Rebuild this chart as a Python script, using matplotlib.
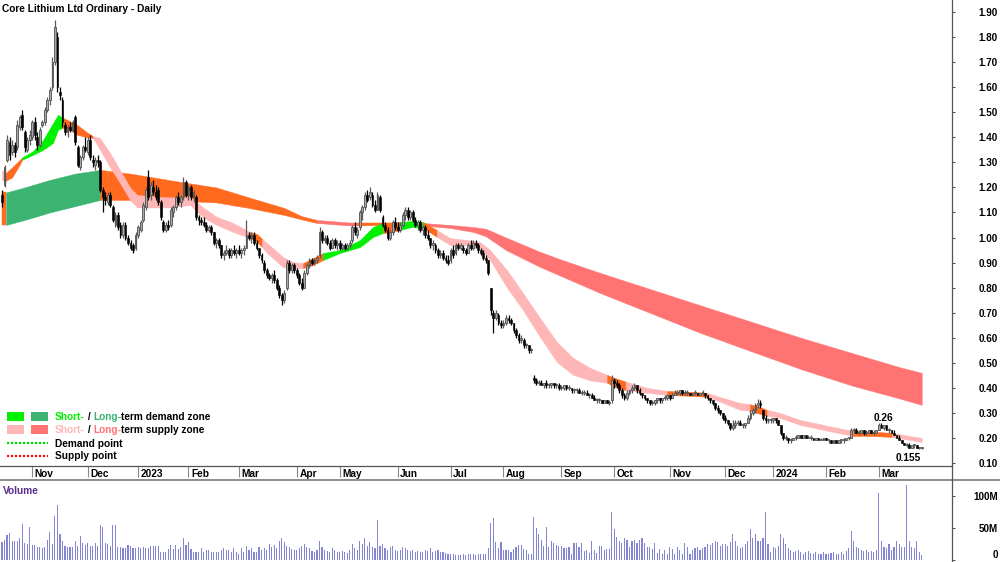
import matplotlib
matplotlib.use("Agg")
import matplotlib.pyplot as plt
from matplotlib.lines import Line2D
from matplotlib.patches import Rectangle
from matplotlib.ticker import FixedLocator, FixedFormatter
import numpy as np
import pandas as pd

plt.rcParams['font.family'] = ['Liberation Sans', 'DejaVu Sans']

title = "Core Lithium Ltd Ordinary - Daily"
first_day = "2022-10-14"
last_day = "2024-03-26"
asx_holidays = ["2022-12-26", "2022-12-27", "2023-01-02", "2023-01-26", "2023-04-07",
                "2023-04-10", "2023-04-25", "2023-06-12", "2023-12-25", "2023-12-26",
                "2024-01-01", "2024-01-26"]

# daily candles (open, high, low, close), one list per month
ohlc_2022_10 = [(1.17,1.19,1.12,1.14),(1.21,1.29,1.20,1.28),(1.31,1.41,1.30,1.39),(1.38,1.40,1.31,1.33),(1.34,1.39,1.33,1.37),(1.37,1.38,1.32,1.34),(1.36,1.47,1.35,1.45),(1.44,1.49,1.43,1.48),(1.49,1.51,1.43,1.44),(1.42,1.43,1.34,1.36),(1.35,1.40,1.34,1.39),(1.39,1.43,1.37,1.41)]
ohlc_2022_11 = [(1.40,1.47,1.39,1.46),(1.46,1.48,1.39,1.41),(1.40,1.42,1.35,1.37),(1.37,1.44,1.36,1.43),(1.45,1.47,1.44,1.46),(1.46,1.52,1.45,1.51),(1.51,1.56,1.50,1.55),(1.55,1.60,1.53,1.59),(1.60,1.72,1.59,1.70),(1.70,1.87,1.69,1.84),(1.80,1.82,1.58,1.60),(1.58,1.60,1.55,1.57),(1.55,1.56,1.44,1.46),(1.45,1.46,1.41,1.42),(1.42,1.45,1.40,1.44),(1.44,1.46,1.42,1.43),(1.43,1.47,1.42,1.46),(1.48,1.49,1.37,1.38),(1.36,1.37,1.28,1.29),(1.28,1.33,1.27,1.32),(1.32,1.37,1.31,1.36),(1.36,1.40,1.34,1.35)]
ohlc_2022_12 = [(1.34,1.40,1.33,1.39),(1.39,1.41,1.31,1.32),(1.31,1.33,1.28,1.30),(1.29,1.32,1.27,1.31),(1.31,1.33,1.28,1.30),(1.30,1.31,1.18,1.19),(1.19,1.20,1.10,1.16),(1.16,1.18,1.13,1.15),(1.14,1.18,1.13,1.17),(1.17,1.18,1.12,1.13),(1.12,1.13,1.06,1.07),(1.05,1.10,1.04,1.09),(1.09,1.10,1.03,1.04),(1.05,1.06,1.00,1.01),(1.01,1.06,1.00,1.05),(1.05,1.06,0.99,1.00),(1.00,1.01,0.97,0.98),(0.98,0.99,0.95,0.96),(0.97,0.98,0.94,0.95),(0.96,1.02,0.95,1.01)]
ohlc_2023_01 = [(1.01,1.05,1.00,1.04),(1.03,1.07,1.02,1.06),(1.07,1.14,1.06,1.13),(1.12,1.20,1.11,1.19),(1.24,1.27,1.15,1.16),(1.17,1.22,1.15,1.21),(1.20,1.23,1.17,1.18),(1.18,1.21,1.15,1.16),(1.19,1.20,1.13,1.14),(1.14,1.15,1.07,1.08),(1.06,1.07,1.02,1.03),(1.03,1.06,1.02,1.05),(1.05,1.07,1.03,1.04),(1.05,1.12,1.04,1.11),(1.10,1.13,1.08,1.12),(1.12,1.17,1.11,1.16),(1.16,1.18,1.13,1.14),(1.14,1.17,1.12,1.16),(1.16,1.24,1.15,1.22),(1.22,1.23,1.16,1.17)]
ohlc_2023_02 = [(1.17,1.21,1.15,1.20),(1.20,1.21,1.15,1.16),(1.16,1.19,1.14,1.18),(1.16,1.17,1.07,1.08),(1.08,1.09,1.05,1.07),(1.07,1.08,1.05,1.06),(1.06,1.08,1.04,1.05),(1.05,1.06,1.02,1.03),(1.03,1.05,1.02,1.04),(1.04,1.05,1.01,1.02),(1.02,1.02,0.97,0.98),(0.98,1.00,0.96,0.99),(0.99,1.00,0.96,0.97),(0.97,0.97,0.92,0.93),(0.93,0.95,0.91,0.94),(0.94,0.97,0.93,0.95),(0.95,0.96,0.92,0.93),(0.93,0.96,0.92,0.95),(0.95,0.97,0.93,0.94),(0.94,0.96,0.92,0.95)]
ohlc_2023_03 = [(0.95,0.97,0.93,0.94),(0.94,0.96,0.92,0.95),(0.95,0.97,0.93,0.96),(0.96,1.07,0.96,1.01),(1.01,1.02,0.99,1.00),(1.00,1.02,0.98,1.01),(1.01,1.02,0.97,0.98),(0.98,0.99,0.95,0.96),(0.96,0.96,0.92,0.93),(0.93,0.94,0.90,0.91),(0.90,0.91,0.86,0.87),(0.87,0.88,0.84,0.85),(0.85,0.86,0.83,0.84),(0.84,0.86,0.82,0.85),(0.85,0.87,0.82,0.83),(0.83,0.84,0.79,0.80),(0.80,0.81,0.76,0.77),(0.77,0.78,0.73,0.75),(0.75,0.79,0.74,0.78),(0.80,0.91,0.79,0.90),(0.90,0.91,0.86,0.87),(0.87,0.90,0.86,0.89),(0.89,0.90,0.86,0.87)]
ohlc_2023_04 = [(0.87,0.88,0.84,0.85),(0.85,0.86,0.81,0.82),(0.82,0.84,0.79,0.80),(0.80,0.87,0.80,0.86),(0.86,0.90,0.85,0.89),(0.89,0.92,0.88,0.91),(0.91,0.92,0.89,0.90),(0.90,0.92,0.89,0.91),(0.91,0.93,0.90,0.92),(0.93,1.04,0.92,1.02),(1.02,1.03,0.98,0.99),(0.99,1.01,0.98,1.00),(1.00,1.01,0.97,0.98),(0.98,0.99,0.95,0.96),(0.96,1.00,0.96,0.99),(0.99,1.00,0.96,0.97),(0.97,0.99,0.95,0.98)]
ohlc_2023_05 = [(0.98,0.99,0.95,0.96),(0.96,0.98,0.95,0.97),(0.97,0.98,0.95,0.96),(0.96,0.98,0.95,0.97),(0.97,0.99,0.96,0.98),(0.99,1.05,0.98,1.04),(1.04,1.06,1.01,1.02),(1.01,1.04,1.00,1.03),(1.04,1.11,1.03,1.10),(1.10,1.13,1.07,1.12),(1.12,1.18,1.11,1.17),(1.17,1.19,1.14,1.15),(1.16,1.20,1.15,1.18),(1.17,1.18,1.12,1.13),(1.13,1.15,1.10,1.11),(1.11,1.18,1.11,1.17),(1.16,1.17,1.10,1.11),(1.08,1.09,1.04,1.05),(1.05,1.06,1.02,1.03),(1.03,1.04,0.99,1.00),(1.00,1.03,0.99,1.02),(1.02,1.07,1.01,1.06),(1.06,1.08,1.03,1.04)]
ohlc_2023_06 = [(1.04,1.06,1.02,1.03),(1.03,1.06,1.02,1.05),(1.05,1.10,1.04,1.09),(1.09,1.12,1.07,1.11),(1.11,1.12,1.07,1.08),(1.08,1.11,1.07,1.10),(1.10,1.11,1.06,1.07),(1.07,1.08,1.04,1.05),(1.05,1.07,1.03,1.06),(1.06,1.07,1.02,1.03),(1.03,1.05,1.01,1.04),(1.04,1.05,1.00,1.01),(1.01,1.03,0.99,1.00),(1.00,1.00,0.96,0.97),(0.97,0.99,0.95,0.98),(0.97,0.98,0.94,0.95),(0.95,0.96,0.92,0.93),(0.93,0.95,0.92,0.94),(0.94,0.95,0.91,0.92),(0.92,0.93,0.90,0.91),(0.91,0.93,0.89,0.90)]
ohlc_2023_07 = [(0.91,0.96,0.90,0.95),(0.95,0.97,0.92,0.93),(0.94,0.98,0.93,0.97),(0.97,0.98,0.95,0.96),(0.96,0.98,0.95,0.97),(0.96,0.97,0.94,0.95),(0.95,0.96,0.93,0.94),(0.94,0.98,0.94,0.97),(0.97,0.99,0.95,0.96),(0.96,0.99,0.95,0.98),(0.98,0.99,0.96,0.97),(0.97,0.98,0.94,0.95),(0.95,0.96,0.93,0.94),(0.94,0.95,0.91,0.92),(0.92,0.93,0.90,0.91),(0.91,0.91,0.85,0.86),(0.80,0.80,0.69,0.71),(0.70,0.71,0.62,0.68),(0.68,0.71,0.67,0.70),(0.69,0.70,0.65,0.66),(0.66,0.67,0.64,0.65)]
ohlc_2023_08 = [(0.65,0.67,0.64,0.66),(0.66,0.69,0.65,0.68),(0.68,0.69,0.66,0.67),(0.67,0.68,0.65,0.66),(0.66,0.66,0.62,0.63),(0.63,0.64,0.60,0.61),(0.61,0.62,0.58,0.59),(0.59,0.61,0.58,0.60),(0.59,0.60,0.56,0.57),(0.57,0.58,0.56,0.57),(0.57,0.57,0.54,0.55),(0.55,0.56,0.54,0.55),(0.44,0.45,0.42,0.43),(0.43,0.44,0.41,0.42),(0.42,0.43,0.41,0.42),(0.42,0.43,0.41,0.41),(0.41,0.42,0.40,0.42),(0.42,0.43,0.40,0.41),(0.41,0.42,0.40,0.41),(0.41,0.42,0.40,0.42),(0.42,0.42,0.40,0.41),(0.41,0.42,0.40,0.41),(0.41,0.42,0.39,0.40)]
ohlc_2023_09 = [(0.40,0.41,0.39,0.40),(0.40,0.41,0.39,0.41),(0.41,0.41,0.39,0.40),(0.40,0.41,0.39,0.40),(0.40,0.40,0.38,0.39),(0.39,0.40,0.38,0.39),(0.39,0.40,0.38,0.39),(0.39,0.40,0.38,0.38),(0.38,0.39,0.37,0.38),(0.38,0.39,0.37,0.38),(0.38,0.39,0.37,0.37),(0.37,0.38,0.36,0.37),(0.37,0.38,0.36,0.36),(0.36,0.37,0.35,0.35),(0.35,0.36,0.34,0.35),(0.35,0.36,0.34,0.35),(0.35,0.35,0.34,0.34),(0.34,0.35,0.34,0.35),(0.35,0.35,0.34,0.34),(0.34,0.35,0.33,0.34),(0.35,0.45,0.34,0.43)]
ohlc_2023_10 = [(0.43,0.44,0.40,0.42),(0.42,0.43,0.40,0.41),(0.41,0.42,0.38,0.39),(0.39,0.40,0.36,0.37),(0.37,0.38,0.35,0.36),(0.36,0.39,0.35,0.38),(0.38,0.39,0.37,0.39),(0.39,0.41,0.38,0.40),(0.40,0.42,0.39,0.41),(0.41,0.41,0.38,0.39),(0.39,0.40,0.37,0.38),(0.38,0.38,0.36,0.37),(0.37,0.37,0.35,0.36),(0.36,0.36,0.34,0.35),(0.35,0.35,0.33,0.34),(0.34,0.35,0.33,0.34),(0.34,0.35,0.33,0.35),(0.35,0.36,0.34,0.36),(0.36,0.36,0.34,0.35),(0.35,0.36,0.34,0.36),(0.36,0.37,0.35,0.36),(0.36,0.37,0.35,0.37)]
ohlc_2023_11 = [(0.37,0.37,0.35,0.36),(0.36,0.38,0.36,0.37),(0.37,0.39,0.37,0.38),(0.38,0.39,0.37,0.38),(0.38,0.39,0.37,0.39),(0.39,0.39,0.37,0.38),(0.38,0.39,0.37,0.38),(0.38,0.39,0.37,0.38),(0.38,0.38,0.37,0.37),(0.37,0.38,0.37,0.38),(0.38,0.39,0.37,0.38),(0.38,0.38,0.37,0.37),(0.37,0.38,0.37,0.38),(0.38,0.39,0.37,0.38),(0.38,0.38,0.36,0.37),(0.37,0.37,0.35,0.36),(0.36,0.36,0.34,0.35),(0.35,0.35,0.33,0.34),(0.34,0.34,0.31,0.32),(0.32,0.33,0.30,0.31),(0.31,0.31,0.29,0.30),(0.30,0.30,0.27,0.28)]
ohlc_2023_12 = [(0.28,0.29,0.26,0.27),(0.27,0.27,0.25,0.26),(0.26,0.26,0.23,0.24),(0.24,0.27,0.23,0.25),(0.25,0.27,0.24,0.26),(0.26,0.27,0.25,0.26),(0.26,0.27,0.25,0.25),(0.25,0.26,0.24,0.25),(0.25,0.26,0.24,0.26),(0.26,0.29,0.26,0.28),(0.28,0.31,0.27,0.30),(0.30,0.32,0.29,0.31),(0.31,0.34,0.30,0.33),(0.33,0.355,0.32,0.34),(0.34,0.35,0.32,0.33),(0.31,0.31,0.27,0.28),(0.28,0.29,0.26,0.27),(0.27,0.28,0.26,0.27),(0.27,0.28,0.26,0.27)]
ohlc_2024_01 = [(0.27,0.28,0.26,0.28),(0.28,0.28,0.26,0.27),(0.27,0.27,0.25,0.25),(0.25,0.25,0.21,0.22),(0.22,0.22,0.19,0.20),(0.20,0.21,0.19,0.20),(0.20,0.20,0.18,0.19),(0.19,0.20,0.18,0.19),(0.19,0.20,0.19,0.20),(0.20,0.21,0.19,0.20),(0.20,0.21,0.20,0.21),(0.21,0.21,0.20,0.20),(0.20,0.21,0.20,0.21),(0.21,0.21,0.20,0.20),(0.20,0.21,0.20,0.20),(0.20,0.21,0.19,0.20),(0.20,0.20,0.19,0.19),(0.19,0.20,0.19,0.20),(0.20,0.20,0.19,0.19),(0.19,0.20,0.19,0.19),(0.19,0.20,0.19,0.20)]
ohlc_2024_02 = [(0.20,0.20,0.19,0.19),(0.19,0.19,0.18,0.19),(0.19,0.19,0.18,0.18),(0.18,0.19,0.18,0.19),(0.19,0.19,0.18,0.18),(0.18,0.19,0.18,0.19),(0.19,0.19,0.18,0.19),(0.19,0.20,0.18,0.19),(0.19,0.20,0.19,0.20),(0.20,0.20,0.19,0.20),(0.20,0.24,0.20,0.23),(0.23,0.24,0.22,0.23),(0.23,0.24,0.22,0.22),(0.22,0.23,0.21,0.22),(0.22,0.23,0.22,0.23),(0.23,0.23,0.21,0.22),(0.22,0.23,0.21,0.22),(0.22,0.23,0.22,0.23),(0.23,0.23,0.22,0.22),(0.22,0.23,0.21,0.22),(0.22,0.23,0.22,0.23)]
ohlc_2024_03 = [(0.23,0.26,0.23,0.25),(0.25,0.26,0.24,0.24),(0.24,0.25,0.23,0.25),(0.25,0.25,0.23,0.23),(0.23,0.24,0.22,0.23),(0.23,0.23,0.22,0.22),(0.22,0.23,0.21,0.21),(0.21,0.21,0.20,0.20),(0.20,0.21,0.19,0.19),(0.19,0.19,0.18,0.18),(0.18,0.18,0.17,0.17),(0.17,0.18,0.165,0.17),(0.17,0.18,0.16,0.16),(0.16,0.17,0.16,0.17),(0.17,0.175,0.16,0.17),(0.17,0.17,0.16,0.16),(0.16,0.165,0.155,0.16),(0.16,0.165,0.155,0.16)]

# daily volume in millions of shares, one list per month
vol_2022_10 = [28, 32, 39, 42, 29, 29, 30, 34, 56, 27, 25, 52]
vol_2022_11 = [23, 24, 21, 21, 18, 21, 31, 43, 25, 69, 86, 41, 30, 22, 21, 21, 21, 30, 22, 37, 26, 24]
vol_2022_12 = [26, 22, 22, 26, 22, 55, 52, 27, 25, 22, 55, 55, 21, 21, 18, 18, 23, 22, 18, 18]
vol_2023_01 = [21, 18, 21, 18, 18, 22, 22, 22, 22, 12, 13, 13, 17, 23, 17, 23, 17, 21, 35, 23]
vol_2023_02 = [28, 17, 13, 12, 12, 18, 13, 16, 16, 12, 12, 12, 12, 16, 18, 16, 16, 13, 18, 13]
vol_2023_03 = [10, 18, 13, 22, 15, 18, 12, 12, 20, 15, 18, 16, 25, 20, 23, 18, 30, 35, 28, 22, 20, 17, 15]
vol_2023_04 = [15, 18, 22, 25, 20, 18, 14, 12, 15, 30, 20, 16, 14, 13, 18, 15, 12]
vol_2023_05 = [12, 14, 13, 11, 15, 25, 18, 16, 30, 25, 35, 22, 28, 20, 18, 62, 22, 25, 18, 15, 20, 22, 16]
vol_2023_06 = [14, 16, 20, 18, 15, 14, 16, 12, 14, 13, 12, 15, 14, 18, 12, 14, 16, 13, 12, 11, 10]
vol_2023_07 = [10, 9, 8, 8, 8, 10, 8, 10, 9, 10, 8, 9, 10, 9, 9, 18, 58, 65, 28, 18, 28]
vol_2023_08 = [16, 15, 16, 13, 17, 21, 23, 23, 17, 16, 10, 9, 67, 50, 40, 31, 22, 51, 21, 29, 26, 23, 22]
vol_2023_09 = [22, 18, 18, 20, 10, 26, 27, 20, 26, 14, 15, 11, 29, 15, 11, 22, 22, 15, 17, 17, 75]
vol_2023_10 = [48, 36, 29, 27, 34, 31, 20, 29, 31, 27, 31, 35, 26, 20, 20, 17, 26, 11, 17, 10, 15, 10]
vol_2023_11 = [20, 17, 10, 21, 15, 10, 26, 21, 10, 16, 18, 21, 15, 18, 20, 25, 24, 26, 30, 28, 22, 25]
vol_2023_12 = [25, 22, 28, 40, 30, 22, 18, 20, 25, 30, 48, 35, 40, 30, 30, 35, 75, 25, 12]
vol_2024_01 = [20, 18, 22, 40, 35, 25, 18, 15, 12, 14, 16, 12, 10, 12, 14, 11, 10, 12, 10, 9, 12]
vol_2024_02 = [10, 9, 11, 12, 10, 9, 12, 10, 14, 18, 45, 30, 20, 18, 15, 14, 16, 12, 14, 12, 15]
vol_2024_03 = [105, 30, 20, 18, 25, 15, 20, 30, 25, 20, 20, 117, 30, 20, 18, 30, 12, 8]

# long-term trend ribbon (trading-day position, upper, lower, zone)
long_pos = [0, 1.6, 9, 19, 29, 39, 51, 63, 72, 85, 98, 112, 119, 125, 138, 141, 150, 157, 167,
            178, 187, 192, 200, 213, 221, 237, 257, 277, 297, 317, 337, 356, 365]
long_top = [1.18, 1.18, 1.20, 1.23, 1.255, 1.27, 1.255, 1.235, 1.22, 1.20, 1.16, 1.118, 1.085, 1.07,
            1.06, 1.06, 1.06, 1.06, 1.058, 1.05, 1.042, 1.035, 1.00, 0.945, 0.915, 0.86, 0.795,
            0.73, 0.665, 0.60, 0.54, 0.483, 0.46]
long_bot = [1.05, 1.05, 1.07, 1.10, 1.125, 1.15, 1.15, 1.148, 1.146, 1.14, 1.118, 1.09, 1.072, 1.058,
            1.048, 1.048, 1.05, 1.05, 1.048, 1.038, 1.022, 1.005, 0.95, 0.885, 0.85, 0.78, 0.70,
            0.62, 0.547, 0.475, 0.41, 0.358, 0.332]
long_zone = ["o", "g", "g", "g", "g", "o", "o", "o", "o", "o", "o", "o", "o", "r", "r", "o", "o", "r", "r",
             "r", "r", "r", "r", "r", "r", "r", "r", "r", "r", "r", "r", "r", "r"]

# short-term trend ribbon
short_pos = [0, 1.2, 4, 7, 8, 12.3, 16.3, 20.2, 22.2, 23.8, 25.8, 29.8, 33.7, 36.1, 38.9, 42.9, 46.8,
             50.8, 53.6, 58.7, 66.7, 74.6, 79.8, 85.3, 91.7, 98.4, 101.2, 103.2, 105.2, 111.5, 115.5,
             119.4, 123.4, 127.4, 134.1, 142.1, 147.2, 151.2, 154.8, 157.9, 162.7, 167.1, 172.6,
             177.8, 184.5, 189.7, 193.7, 200.4, 206.7, 213.5, 220.2, 226.6, 233.3, 240.1, 243,
             247.5, 256, 263.9, 273, 279.8, 286.1, 292.9, 296.8, 300.8, 303.6, 308.7, 316.7,
             329.8, 337.7, 344.4, 353.2, 360.3, 365]
short_top = [1.27, 1.255, 1.28, 1.31, 1.32, 1.345, 1.39, 1.456, 1.49, 1.48, 1.47, 1.45, 1.42, 1.405,
             1.397, 1.337, 1.27, 1.20, 1.17, 1.165, 1.16, 1.165, 1.12, 1.082, 1.058, 1.022, 1.014,
             0.995, 0.978, 0.922, 0.902, 0.898, 0.918, 0.938, 0.95, 0.99, 1.042, 1.058, 1.058,
             1.062, 1.066, 1.062, 1.03, 0.998, 0.99, 0.982, 0.95, 0.87, 0.779, 0.679, 0.583, 0.52,
             0.48, 0.452, 0.44, 0.425, 0.40, 0.388, 0.384, 0.38, 0.36, 0.34, 0.335, 0.324, 0.312,
             0.30, 0.272, 0.244, 0.228, 0.226, 0.22, 0.208, 0.20]
short_bot = [1.23, 1.225, 1.24, 1.29, 1.31, 1.33, 1.35, 1.377, 1.43, 1.437, 1.437, 1.41, 1.40, 1.397,
             1.35, 1.28, 1.218, 1.15, 1.12, 1.12, 1.12, 1.13, 1.08, 1.05, 1.022, 0.998, 0.982,
             0.962, 0.938, 0.882, 0.878, 0.878, 0.89, 0.91, 0.938, 0.962, 1.002, 1.018, 1.022,
             1.03, 1.042, 1.038, 1.002, 0.97, 0.97, 0.958, 0.91, 0.80, 0.711, 0.603, 0.503, 0.452,
             0.43, 0.42, 0.405, 0.39, 0.38, 0.372, 0.368, 0.364, 0.34, 0.312, 0.308, 0.296, 0.288,
             0.28, 0.252, 0.224, 0.208, 0.208, 0.204, 0.192, 0.184]
short_zone = ["p", "o", "o", "o", "g", "g", "g", "g", "g", "o", "o", "o", "o", "p", "p", "p", "p",
              "p", "p", "p", "p", "p", "p", "p", "p", "o", "o", "p", "p", "p", "p",
              "o", "o", "g", "g", "g", "g", "o", "o", "g", "g", "o", "p",
              "p", "p", "p", "p", "p", "p", "p", "p", "p", "p", "o", "o",
              "p", "p", "o", "o", "p", "p", "p", "o", "o", "p", "p", "p",
              "p", "o", "o", "p", "p", "p"]

short_colors = {"g": "#00f000", "p": "#ffb6b6", "o": "#ff6a1f"}
long_colors = {"g": "#3cb371", "o": "#ff6a1f", "r": "#ff7373"}


def draw_ribbon(ax, pos, top, bot, zone, colors, z):
    start = 0
    last = len(pos) - 1
    for k in range(1, len(pos)):
        if zone[k] != zone[start] or k == last:
            c = colors[zone[start]]
            ax.fill_between(pos[start:k + 1], bot[start:k + 1], top[start:k + 1],
                            facecolor=c, edgecolor=c, lw=0.3, zorder=z)
            start = k


def main():
    ohlc = np.array(ohlc_2022_10 + ohlc_2022_11 + ohlc_2022_12 + ohlc_2023_01 + ohlc_2023_02 +
                    ohlc_2023_03 + ohlc_2023_04 + ohlc_2023_05 + ohlc_2023_06 + ohlc_2023_07 +
                    ohlc_2023_08 + ohlc_2023_09 + ohlc_2023_10 + ohlc_2023_11 + ohlc_2023_12 +
                    ohlc_2024_01 + ohlc_2024_02 + ohlc_2024_03)
    volume = np.array(vol_2022_10 + vol_2022_11 + vol_2022_12 + vol_2023_01 + vol_2023_02 +
                      vol_2023_03 + vol_2023_04 + vol_2023_05 + vol_2023_06 + vol_2023_07 +
                      vol_2023_08 + vol_2023_09 + vol_2023_10 + vol_2023_11 + vol_2023_12 +
                      vol_2024_01 + vol_2024_02 + vol_2024_03, dtype=float)
    opens, highs, lows, closes = ohlc.T
    n = len(closes)
    idx = np.arange(n)

    dates = pd.bdate_range(first_day, last_day)
    dates = dates[~dates.isin(pd.to_datetime(asx_holidays))][:n]

    fig = plt.figure(figsize=(10, 5.62), dpi=100)
    ax = fig.add_axes([0, 96.5 / 562, 0.952, 465.5 / 562])
    axv = fig.add_axes([0, 0, 0.952, 82 / 562], sharex=ax)

    font = dict(fontsize=7.3, fontweight="bold")

    # ribbons
    draw_ribbon(ax, long_pos, long_top, long_bot, long_zone, long_colors, 1)
    draw_ribbon(ax, short_pos, short_top, short_bot, short_zone, short_colors, 2)

    # candles
    up = closes >= opens
    ax.vlines(idx[up], lows[up], highs[up], color="#5a5a5a", lw=0.9, zorder=3)
    ax.vlines(idx[~up], lows[~up], highs[~up], color="black", lw=0.9, zorder=3)
    body_lo = np.minimum(opens, closes)
    body_h = np.maximum(np.abs(closes - opens), 0.005)
    ax.bar(idx[up], body_h[up], bottom=body_lo[up], width=0.72, color="#a8a8a8",
           edgecolor="#505050", lw=0.6, zorder=4)
    ax.bar(idx[~up], body_h[~up], bottom=body_lo[~up], width=0.72, color="black",
           edgecolor="black", lw=0.4, zorder=4)

    # recent high / low labels
    i_hi = n - 18 + int(np.argmax(highs[-18:]))
    i_lo = n - 10 + int(np.argmin(lows[-10:]))
    ax.annotate(f"{highs[i_hi]:g}", xy=(i_hi, highs[i_hi]), xytext=(3, 1.2),
                textcoords="offset points", ha="center", va="baseline", **font)
    ax.annotate(f"{lows[i_lo]:g}", xy=(i_lo, lows[i_lo]), xytext=(-8, -2.5),
                textcoords="offset points", ha="center", va="top", **font)

    ax.set_xlim(-0.8, 377.0)
    ax.set_ylim(0.09, 1.948)

    for s in ["left", "top"]:
        ax.spines[s].set_visible(False)
    ax.spines["right"].set_color("#555555")
    ax.spines["bottom"].set_color("#555555")
    ax.spines["right"].set_linewidth(0.9)
    ax.spines["bottom"].set_linewidth(0.9)

    yt = np.round(np.arange(0.1, 1.95, 0.1), 2)
    ax.yaxis.tick_right()
    ax.yaxis.set_major_locator(FixedLocator(yt))
    ax.yaxis.set_major_formatter(FixedFormatter([f"{v:.2f}" for v in yt]))
    ax.tick_params(axis="y", direction="out", length=2.5, width=0.8, color="#555555",
                   labelsize=7.1, pad=30.6)
    for lab in ax.get_yticklabels():
        lab.set_horizontalalignment("right")
        lab.set_fontweight("bold")

    # month ticks
    month_start = [i for i in range(1, n) if dates[i].month != dates[i - 1].month]
    month_lab = [dates[i].strftime("%Y") if dates[i].month == 1 else dates[i].strftime("%b")
                 for i in month_start]
    ax.xaxis.set_major_locator(FixedLocator(month_start))
    ax.tick_params(axis="x", direction="out", length=8, width=0.8, color="#8a8a8a",
                   labelbottom=False)
    for m, lab in zip(month_start, month_lab):
        ax.annotate(lab, xy=(m, 0), xycoords=("data", "axes fraction"), xytext=(1.8, -8.4),
                    textcoords="offset points", ha="left", va="baseline",
                    annotation_clip=False, **font)

    # volume panel
    axv.bar(idx, volume, width=0.45, color="#8585d6", lw=0)
    axv.set_ylim(-3.1, 125)
    for s in ["left", "top", "bottom"]:
        axv.spines[s].set_visible(False)
    axv.spines["right"].set_color("#555555")
    axv.spines["right"].set_linewidth(0.9)
    axv.yaxis.tick_right()
    axv.yaxis.set_major_locator(FixedLocator([0, 50, 100]))
    axv.yaxis.set_major_formatter(FixedFormatter(["0", "50M", "100M"]))
    axv.tick_params(axis="y", direction="out", length=2.5, width=0.8, color="#555555",
                    labelsize=7.1, pad=30.6)
    for lab in axv.get_yticklabels():
        lab.set_horizontalalignment("right")
        lab.set_fontweight("bold")
    axv.get_yticklabels()[0].set_verticalalignment("bottom")
    axv.tick_params(axis="x", length=0, labelbottom=False)
    fig.text(3 / 1000, 1 - 493.5 / 562, "Volume", color="#5a2d8e", va="baseline", **font)

    # date strip borders
    fig.add_artist(Line2D([0, 1], [82 / 562, 82 / 562], transform=fig.transFigure,
                          color="#8c8c8c", lw=1.4))
    fig.add_artist(Line2D([0.952, 0.952], [82 / 562, 96.5 / 562], transform=fig.transFigure,
                          color="#555555", lw=0.9))

    # title
    fig.text(2 / 1000, 1 - 11.7 / 562, title, va="baseline", ha="left", **font)

    # legend
    def box(x, y, w, h, c):
        fig.add_artist(Rectangle((x / 1000, 1 - (y + h) / 562), w / 1000, h / 562,
                                 transform=fig.transFigure, facecolor=c, edgecolor="none"))

    box(7, 412, 17, 9, short_colors["g"])
    box(31, 412, 17, 9, long_colors["g"])
    box(7, 425, 17, 9, short_colors["p"])
    box(31, 425, 17, 9, long_colors["r"])
    for yy, c in [(443, "#00e000"), (456, "#ff1010")]:
        fig.add_artist(Line2D([7 / 1000, 48 / 1000], [1 - yy / 562, 1 - yy / 562],
                              transform=fig.transFigure, color=c, lw=1.6,
                              linestyle=(0, (1, 0.8))))

    rows = [
        (420, [("Short-", short_colors["g"]), (" / ", "black"), ("Long-", long_colors["g"]),
               ("term demand zone", "black")]),
        (433.3, [("Short-", short_colors["p"]), (" / ", "black"), ("Long-", long_colors["r"]),
                 ("term supply zone", "black")]),
        (446.7, [("Demand point", "black")]),
        (459.3, [("Supply point", "black")]),
    ]
    for yy, pieces in rows:
        t = fig.text(55 / 1000, 1 - yy / 562, pieces[0][0], color=pieces[0][1],
                     va="baseline", ha="left", **font)
        for s, c in pieces[1:]:
            t = ax.annotate(s, xy=(1, 0), xycoords=t, va="bottom", ha="left", color=c,
                            annotation_clip=False, **font)

    fig.savefig("out.png", dpi=100)


if __name__ == "__main__":
    main()
